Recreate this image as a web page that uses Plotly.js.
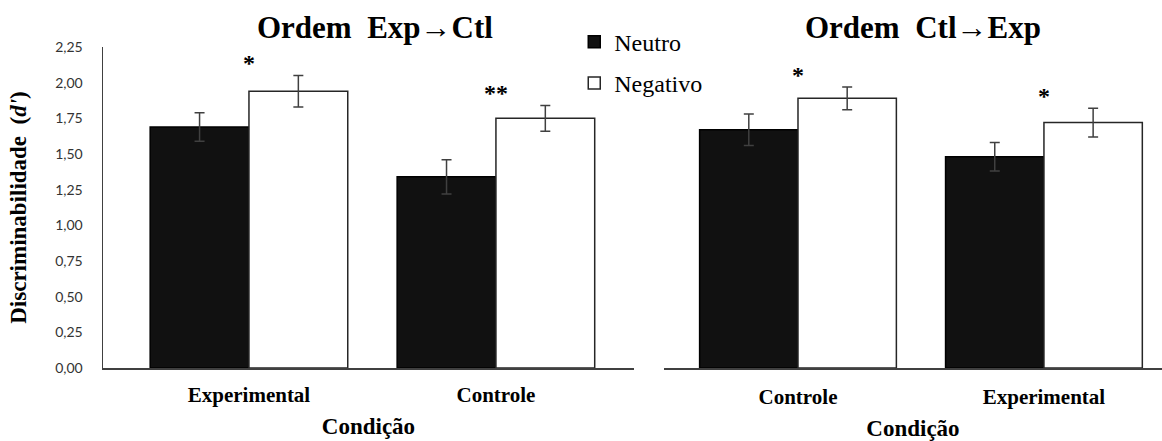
<!DOCTYPE html>
<html>
<head>
<meta charset="utf-8">
<script src="https://cdn.plot.ly/plotly-3.0.1.min.js"></script>
<style>html,body{margin:0;padding:0;background:#fff;}#chart{width:1162px;height:441px;}</style>
</head>
<body>
<div id="chart"></div>
<script>
// Data
const seriesNames = ["Neutro", "Negativo"];
const catsLeft = ["Experimental", "Controle"];
const catsRight = ["Controle", "Experimental"];
const neutroLeft = [1.69, 1.34];
const neutroLeftErr = [0.10, 0.12];
const negativoLeft = [1.94, 1.75];
const negativoLeftErr = [0.11, 0.09];
const neutroRight = [1.67, 1.48];
const neutroRightErr = [0.11, 0.10];
const negativoRight = [1.89, 1.72];
const negativoRightErr = [0.08, 0.10];
const starsLeft = ["*", "**"];
const starsRight = ["*", "*"];
const titles = ["Ordem  Exp\u2192Ctl", "Ordem  Ctl\u2192Exp"];
const yTitle = "Discriminabilidade  (<i>d'</i>)";
const xTitle = "Condição";

const serif = "Liberation Serif, Times New Roman, serif";
const axisColor = "#404040";
const errStyle = (arr) => ({type: "data", array: arr, visible: true, color: "#404040", thickness: 1.5, width: 5});

function neutroTrace(x, y, err, xa, ya, show) {
  return {type: "bar", name: seriesNames[0], x: x, y: y, xaxis: xa, yaxis: ya,
    marker: {color: "#111111", line: {color: "#000000", width: 1.5}},
    error_y: errStyle(err), showlegend: show, legendgroup: "n"};
}
function negTrace(x, y, err, xa, ya, show) {
  return {type: "bar", name: seriesNames[1], x: x, y: y, xaxis: xa, yaxis: ya,
    marker: {color: "#ffffff", line: {color: "#262626", width: 1.5}},
    error_y: errStyle(err), showlegend: show, legendgroup: "g"};
}

const data = [
  neutroTrace(catsLeft, neutroLeft, neutroLeftErr, "x", "y", true),
  negTrace(catsLeft, negativoLeft, negativoLeftErr, "x", "y", true),
  neutroTrace(catsRight, neutroRight, neutroRightErr, "x2", "y2", false),
  negTrace(catsRight, negativoRight, negativoRightErr, "x2", "y2", false)
];

const annotations = [];
function addStars(cats, vals, errs, stars, xref, yref) {
  cats.forEach((c, i) => {
    annotations.push({x: c, y: vals[i] + errs[i] + 0.085, xref: xref, yref: yref,
      text: "<b>" + stars[i] + "</b>", showarrow: false, yanchor: "middle",
      font: {family: serif, size: 24, color: "#000"}});
  });
}
addStars(catsLeft, negativoLeft, negativoLeftErr, starsLeft, "x", "y");
addStars(catsRight, negativoRight, negativoRightErr, starsRight, "x2", "y2");
annotations.push({x: 0.2568, y: 1.062, xref: "paper", yref: "paper", text: "<b>" + titles[0] + "</b>",
  showarrow: false, xanchor: "center", yanchor: "middle", font: {family: serif, size: 31, color: "#000"}});
annotations.push({x: 0.7743, y: 1.062, xref: "paper", yref: "paper", text: "<b>" + titles[1] + "</b>",
  showarrow: false, xanchor: "center", yanchor: "middle", font: {family: serif, size: 31, color: "#000"}});

const tickFontX = {family: serif, size: 21, color: "#000", weight: "bold"};
const layout = {
  width: 1162, height: 441,
  margin: {l: 103, r: 0, t: 47, b: 73},
  paper_bgcolor: "#fff", plot_bgcolor: "#fff",
  barmode: "group", bargap: 0.2, bargroupgap: 0,
  separators: ",.",
  showlegend: true,
  legend: {x: 0.445, y: 1.085, xanchor: "left", yanchor: "top", bgcolor: "rgba(0,0,0,0)",
    font: {family: serif, size: 24, color: "#000"}, tracegroupgap: 7, traceorder: "grouped"},
  xaxis: {domain: [0, 0.5014], range: [-0.591, 1.559], showline: true, linecolor: axisColor, linewidth: 1.5,
    ticks: "", showgrid: false, zeroline: false, tickfont: tickFontX, ticklabelstandoff: 7,
    title: {text: "<b>" + xTitle + "</b>", font: {family: serif, size: 23, color: "#000"}, standoff: 12}},
  yaxis: {domain: [0, 1], range: [0, 2.25], tickvals: [0,0.25,0.5,0.75,1,1.25,1.5,1.75,2,2.25], tickformat: ".2f",
    showline: true, linecolor: axisColor, linewidth: 1.5, ticks: "", showgrid: false, zeroline: false,
    tickfont: {family: "Lato, Open Sans, sans-serif", size: 14, color: "#333"}, ticklabelstandoff: 16,
    title: {text: "<b>" + yTitle + "</b>", font: {family: serif, size: 23, color: "#000"}, standoff: 22}},
  xaxis2: {domain: [0.5297, 1], range: [-0.545, 1.480], anchor: "y2", showline: true, linecolor: axisColor, linewidth: 1.5,
    ticks: "", showgrid: false, zeroline: false, tickfont: tickFontX, ticklabelstandoff: 9,
    title: {text: "<b>" + xTitle + "</b>", font: {family: serif, size: 23, color: "#000"}, standoff: 16}},
  yaxis2: {domain: [0, 1], range: [0, 2.25], anchor: "x2", showline: false, showticklabels: false, ticks: "",
    showgrid: false, zeroline: false},
  annotations: annotations
};

Plotly.newPlot("chart", data, layout, {displayModeBar: false, staticPlot: true});
</script>
</body>
</html>
